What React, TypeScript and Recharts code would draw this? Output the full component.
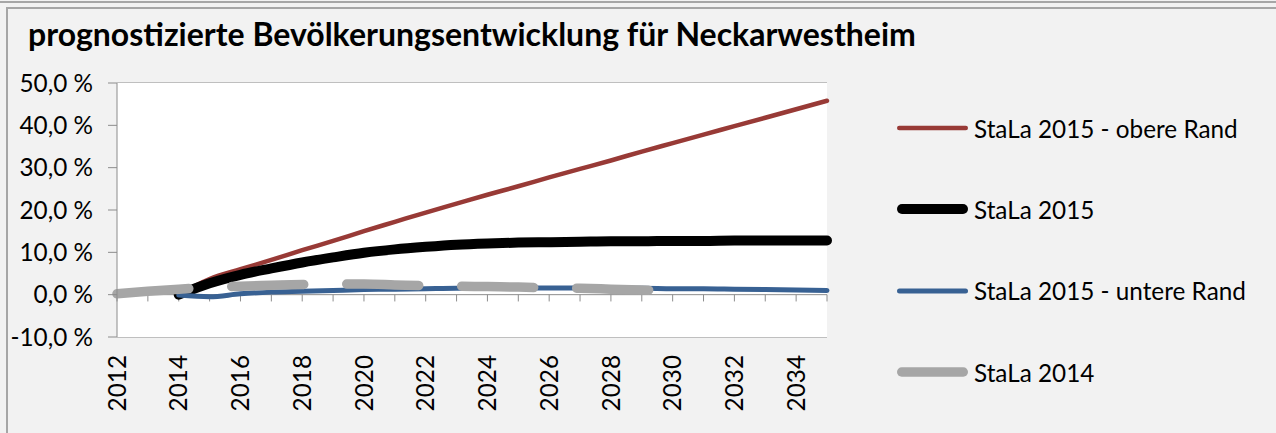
import React from 'react';
import { LineChart, Line, XAxis, YAxis, CartesianGrid, ReferenceLine } from 'recharts';

// Values (percent change vs. 2012)
const years = [2012, 2013, 2014, 2015, 2016, 2017, 2018, 2019, 2020, 2021, 2022, 2023,
  2024, 2025, 2026, 2027, 2028, 2029, 2030, 2031, 2032, 2033, 2034, 2035];

const obereRand = [null, null, 0.0, 3.7, 6.0, 8.2, 10.5, 12.7, 15.0, 17.2, 19.4, 21.5,
  23.6, 25.6, 27.7, 29.7, 31.7, 33.8, 35.8, 37.8, 39.8, 41.8, 43.8, 45.8];
const stala2015 = [null, null, 0.0, 2.7, 4.7, 6.2, 7.6, 8.8, 9.9, 10.7, 11.3, 11.8,
  12.1, 12.3, 12.4, 12.5, 12.6, 12.6, 12.7, 12.7, 12.8, 12.8, 12.8, 12.8];
const untereRand = [null, null, -0.1, -0.5, 0.2, 0.6, 0.8, 1.0, 1.2, 1.3, 1.4, 1.5,
  1.5, 1.6, 1.6, 1.6, 1.5, 1.5, 1.4, 1.4, 1.3, 1.2, 1.1, 1.0];
const stala2014 = [0.2, 0.8, 1.3, 1.7, 2.0, 2.2, 2.4, 2.5, 2.5, 2.3, 2.1, 2.0,
  1.9, 1.8, 1.6, 1.5, 1.3, 1.1, 1.0, null, null, null, null, null];

const yTicks = [-10, 0, 10, 20, 30, 40, 50];

const SERIES = [
  { key: 'obere', name: 'StaLa 2015 - obere Rand', color: '#983a36', width: 4.5, dash: undefined },
  { key: 'mitte', name: 'StaLa 2015', color: '#000000', width: 10, dash: undefined },
  { key: 'untere', name: 'StaLa 2015 - untere Rand', color: '#386193', width: 5, dash: undefined },
  { key: 's2014', name: 'StaLa 2014', color: '#a6a6a6', width: 9.5, dash: '72 43' },
];

const data = years.map((year, i) => ({
  year,
  obere: obereRand[i],
  mitte: stala2015[i],
  untere: untereRand[i],
  s2014: stala2014[i],
}));

const FONT = 'Lato, "Noto Sans", sans-serif';
const GRID = '#8c8c8c';
const TICK_SIZE = 24.3;

const fmtPct = (v: number) => `${v.toFixed(1).replace('.', ',')} %`;

const YearTick = ({ x, y, payload }: any) => (
  <text
    x={x}
    y={y + 10}
    transform={`rotate(-90, ${x}, ${y + 10})`}
    textAnchor="end"
    dy="0.36em"
    fontFamily={FONT}
    fontSize={TICK_SIZE}
    fill="#000"
  >
    {payload.value}
  </text>
);

export default function App() {
  return (
    <div style={{ position: 'absolute', left: 0, top: 0, width: 1276, height: 433, background: '#f2f2f2', overflow: 'hidden' }}>
      <div style={{ position: 'absolute', left: 0, top: 1, width: 1276, height: 2, background: '#a6a6a6' }} />
      <div style={{ position: 'absolute', left: 6, top: 7, width: 1300, height: 460, border: '2px solid #a6a6a6', boxSizing: 'border-box' }} />

      <div style={{ position: 'absolute', left: 28, top: 18, fontFamily: FONT, fontWeight: 700, fontSize: 32, lineHeight: 1, color: '#000', whiteSpace: 'nowrap' }}>
        prognostizierte Bevölkerungsentwicklung für Neckarwestheim
      </div>

      <div style={{ position: 'absolute', left: 0, top: 0 }}>
        <LineChart width={1276} height={433} data={data} margin={{ top: 83, right: 449, bottom: 0, left: 0 }}>
          <rect x={117} y={83} width={710} height={254} fill="#fff" />
          <CartesianGrid vertical={false} stroke={GRID} strokeWidth={1} />
          <XAxis
            dataKey="year"
            type="category"
            interval={1}
            height={96}
            axisLine={false}
            tickLine={false}
            tick={<YearTick />}
          />
          <YAxis
            domain={[-10, 50]}
            ticks={yTicks}
            width={117}
            axisLine={{ stroke: GRID }}
            tickLine={{ stroke: GRID }}
            tickSize={9}
            tickMargin={15}
            tickFormatter={fmtPct}
            tick={{ fontFamily: FONT, fontSize: TICK_SIZE, fill: '#000' }}
          />
          <ReferenceLine y={0} stroke={GRID} />
          {years.map(yr => (
            <ReferenceLine key={yr} segment={[{ x: yr, y: 0 }, { x: yr, y: -1.6 }]} stroke={GRID} />
          ))}
          {SERIES.map(s => (
            <Line
              key={s.key}
              type="monotone"
              dataKey={s.key}
              name={s.name}
              stroke={s.color}
              strokeWidth={s.width}
              strokeDasharray={s.dash}
              strokeLinecap="round"
              dot={false}
              activeDot={false}
              connectNulls={false}
              isAnimationActive={false}
            />
          ))}
        </LineChart>
      </div>

      <div style={{ position: 'absolute', left: 896, top: 0 }}>
        {SERIES.map((s, i) => (
          <div key={s.key} style={{ position: 'absolute', top: 128 + i * 81.4 - 15, left: 0, height: 30, display: 'flex', alignItems: 'center', whiteSpace: 'nowrap' }}>
            <svg width={78} height={30} style={{ display: 'block' }}>
              <line x1={s.width / 2 + 1} y1={15} x2={72 - s.width / 2} y2={15} stroke={s.color} strokeWidth={s.width} strokeLinecap="round" />
            </svg>
            <span style={{ fontFamily: FONT, fontSize: 24.3, color: '#000' }}>{s.name}</span>
          </div>
        ))}
      </div>
    </div>
  );
}
